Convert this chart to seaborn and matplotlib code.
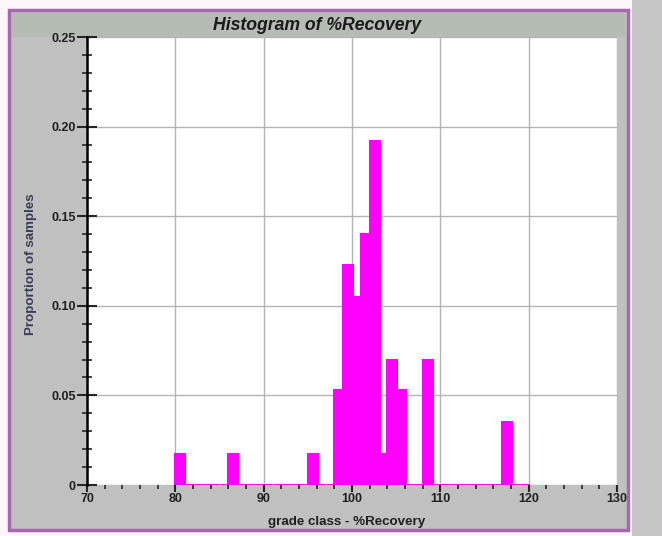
import numpy as np
import pandas as pd
import matplotlib
matplotlib.use("Agg")
import matplotlib.pyplot as plt
from matplotlib.patches import Rectangle
from matplotlib.ticker import MultipleLocator
import seaborn as sns

# ---- data ----
bin_lefts = list(range(80, 120))           # 1-unit grade classes, 80..119
proportions = [0.0] * 40
occupied = {80: 0.0175, 86: 0.0175, 95: 0.0175, 98: 0.053, 99: 0.123,
            100: 0.105, 101: 0.140, 102: 0.192, 103: 0.0175, 104: 0.070,
            105: 0.053, 108: 0.070, 117: 0.035}
for k, v in occupied.items():
    proportions[bin_lefts.index(k)] = v
x_ticks = [70, 80, 90, 100, 110, 120, 130]
y_ticks = [0.0, 0.05, 0.10, 0.15, 0.20, 0.25]
y_tick_labels = ["0", "0.05", "0.10", "0.15", "0.20", "0.25"]
title = "Histogram of %Recovery"
x_label = "grade class - %Recovery"
y_label = "Proportion of samples"

df = pd.DataFrame({"center": [b + 0.5 for b in bin_lefts], "prop": proportions})

sns.set_style("white")
plt.rcParams["font.family"] = ["Liberation Sans", "DejaVu Sans"]

W, H = 662, 536
fig = plt.figure(figsize=(W / 100, H / 100), dpi=100, facecolor="#fdf6fb")

def px(x0, y0, x1, y1):
    return (x0 / W, 1 - y1 / H, (x1 - x0) / W, (y1 - y0) / H)

# background panels
fig.patches.append(Rectangle((632 / W, 0), 30 / W, 1, transform=fig.transFigure,
                             facecolor="#c6c6c6", edgecolor="none", zorder=-10))
x0, y0, w, h = px(9, 10, 628, 530)
fig.patches.append(Rectangle((x0, y0), w, h, transform=fig.transFigure,
                             facecolor="#c0c0c0", edgecolor="#a868b0", linewidth=2.5, zorder=-10))
x0, y0, w, h = px(12, 13, 625, 37)
fig.patches.append(Rectangle((x0, y0), w, h, transform=fig.transFigure,
                             facecolor="#b4bcb4", edgecolor="none", zorder=-9))

ax = fig.add_axes(px(87, 37, 617, 485))
ax.set_zorder(1)
ax.set_facecolor("white")

sns.histplot(data=df, x="center", weights="prop", binwidth=1, binrange=(80, 120),
             color="#ff00ff", edgecolor="#ff00ff", linewidth=2.2, alpha=1.0,
             stat="count", ax=ax, zorder=3)

ax.set_xlim(70, 130)
ax.set_ylim(0, 0.25)
ax.set_xticks(x_ticks)
ax.set_yticks(y_ticks)
ax.set_yticklabels(y_tick_labels)
ax.xaxis.set_minor_locator(MultipleLocator(2))
ax.yaxis.set_minor_locator(MultipleLocator(0.01))

ax.grid(True, which="major", color="#b4b4b4", linewidth=1.0)
ax.set_axisbelow(True)

for s in ["top", "right"]:
    ax.spines[s].set_visible(False)
ax.spines["bottom"].set_visible(False)
ax.spines["left"].set_color("black")
ax.spines["left"].set_linewidth(1.8)
ax.spines["left"].set_zorder(5)

ax.tick_params(axis="y", which="major", direction="inout", length=14, width=1.5,
               labelsize=9, left=True, pad=1)
ax.tick_params(axis="y", which="minor", direction="inout", length=7, width=1.2, left=True)
ax.tick_params(axis="x", which="major", direction="out", length=5, width=1.5,
               labelsize=9, bottom=True, pad=1)
ax.tick_params(axis="x", which="minor", direction="out", length=3, width=1.2, bottom=True)
for lab in ax.get_xticklabels() + ax.get_yticklabels():
    lab.set_fontweight("bold")
    lab.set_color("#202020")

ax.set_xlabel("")
ax.set_ylabel("")
fig.text(347 / W, 1 - 522 / H, x_label, ha="center", va="center", fontsize=9.6,
         fontweight="bold", color="#202020")
fig.text(31 / W, 1 - 264 / H, y_label, ha="center", va="center", fontsize=9.6,
         fontweight="bold", color="#3a3a5a", rotation=90)
fig.text(317 / W, 1 - 25 / H, title, ha="center", va="center", fontsize=12.7,
         fontweight="bold", fontstyle="italic", color="#1a1a1a")

fig.savefig("out.png", dpi=100, facecolor=fig.get_facecolor())
